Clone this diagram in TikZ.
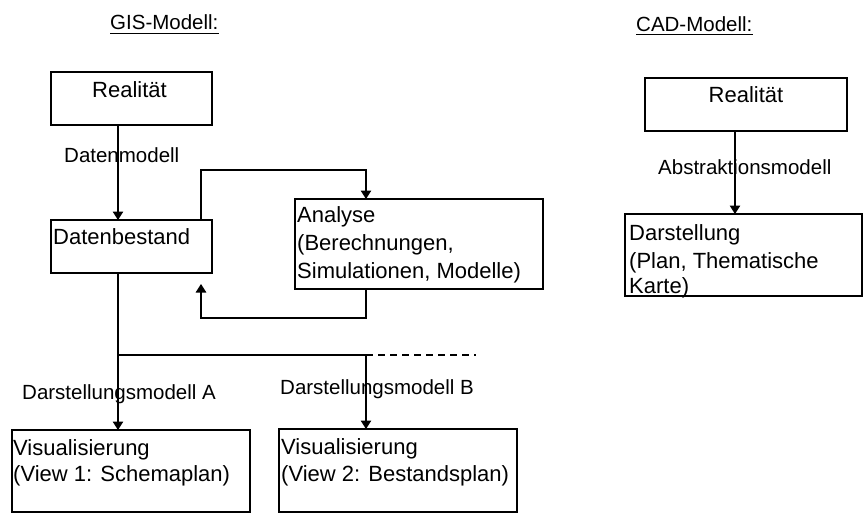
\documentclass[tikz,border=0pt]{standalone}
\usepackage{fontspec}
\setmainfont{Liberation Sans}
\usetikzlibrary{arrows.meta}
\begin{document}
\begin{tikzpicture}[x=1pt,y=-1pt,
  box/.style={draw, line width=1.1pt, inner sep=0pt, outer sep=0pt, anchor=north west},
  lbl/.style={inner sep=0pt, anchor=base west, font=\fontsize{20.5}{24}\selectfont},
  txt/.style={inner sep=0pt, anchor=base west, font=\fontsize{22}{28}\selectfont},
  ctxt/.style={txt, anchor=base},
  conn/.style={line width=1.1pt},
  arr/.style={conn, -{Triangle[width=10.5pt,length=8.5pt]}},
  uline/.style={line width=1pt}]
\useasboundingbox (0,0) rectangle (863,514);

% titles
\node[lbl] (gis) at (110,30) {GIS-Modell:};
\node[lbl] (cad) at (636,31) {CAD-Modell:};
\draw[uline] ([yshift=-3pt]gis.base west) -- ([yshift=-3pt]gis.base east);
\draw[uline] ([yshift=-3pt]cad.base west) -- ([yshift=-3pt]cad.base east);

% boxes
\node[box, minimum width=161pt, minimum height=53pt] (r1) at (51,72) {};
\node[box, minimum width=161pt, minimum height=53pt] (d) at (51,220) {};
\node[box, minimum width=248pt, minimum height=90pt] (a) at (295,199) {};
\node[box, minimum width=238pt, minimum height=82pt] (va) at (12,430) {};
\node[box, minimum width=238pt, minimum height=83pt] (vb) at (279,429) {};
\node[box, minimum width=202pt, minimum height=53pt] (r2) at (645,78) {};
\node[box, minimum width=237pt, minimum height=82pt] (ds) at (625,214) {};

% box texts
\node[ctxt] (r1t) at (129.5,97) {Realität};
\node[ctxt] (r2t) at (746,102) {Realität};
\node[txt] (dt) at (53,244) {Datenbestand};
\node[txt] (at1) at (297,222) {Analyse};
\node[txt] (at2) at (297,250) {(Berechnungen,};
\node[txt] (at3) at (297,278) {Simulationen, Modelle)};
\node[txt] (vat1) at (13,455) {Visualisierung};
\node[txt] (vat2) at (13,481) {(View 1: Schemaplan)};
\node[txt] (vbt1) at (281,454) {Visualisierung};
\node[txt] (vbt2) at (281,481) {(View 2: Bestandsplan)};
\node[txt] (dst1) at (629,240) {Darstellung};
\node[txt] (dst2) at (629,268) {(Plan, Thematische};
\node[txt] (dst3) at (629,293) {Karte)};

% labels
\node[lbl] (lb1) at (64,162) {Datenmodell};
\node[lbl] (lb2) at (658,174) {Abstraktionsmodell};
\node[lbl] (lb3) at (22,399) {Darstellungsmodell A};
\node[lbl] (lb4) at (280,394) {Darstellungsmodell B};

% helper coordinates
\coordinate (colA) at (118,0);
\coordinate (colB) at (366,0);
\coordinate (colC) at (735,0);
\coordinate (loopt) at (201,170);
\coordinate (retc) at (201,318);
\coordinate (rettip) at (201,284);
\coordinate (br) at (118,355);
\coordinate (brB) at (366,355);
\coordinate (dashend) at (476,355);

% connectors
\draw[arr] (colA |- r1.south) -- (colA |- d.north);
\draw[arr] (loopt |- d.north) -- (loopt) -| (colB |- a.north);
\draw[arr] (colB |- a.south) |- (retc) -- (rettip);
\draw[arr] (colA |- d.south) -- (colA |- va.north);
\draw[conn] (br) -- (brB);
\draw[arr] (brB) -- (colB |- vb.north);
\draw[conn, dash pattern=on 7pt off 5pt] (brB) -- (dashend);
\draw[arr] (colC |- r2.south) -- (colC |- ds.north);
\end{tikzpicture}
\end{document}
